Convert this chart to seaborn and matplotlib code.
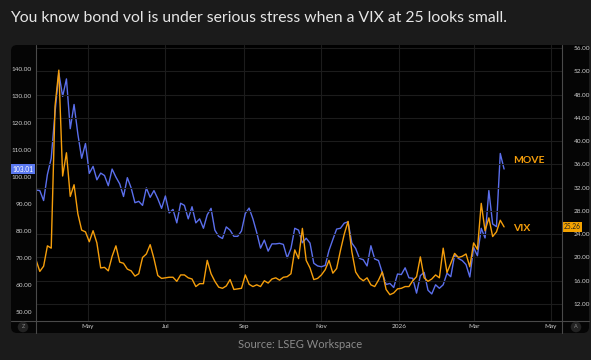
import numpy as np
import pandas as pd
import matplotlib
matplotlib.use("Agg")
import matplotlib.pyplot as plt
import matplotlib.dates as mdates
import seaborn as sns
from matplotlib.patches import FancyBboxPatch
from matplotlib.lines import Line2D
from matplotlib.transforms import IdentityTransform

title = "You know bond vol is under serious stress when a VIX at 25 looks small."
source = "Source: LSEG Workspace"
start_date = "2025-03-21"
step = "3D"

move = [95.2, 95.0, 91.3, 101.0, 107.0, 124.0, 138.6, 130.0, 136.5, 118.0,
        127.0, 116.0, 107.0, 112.5, 101.4, 104.0, 99.0, 101.5, 100.6, 96.8,
        103.0, 100.0, 97.5, 92.8, 99.8, 96.0, 90.5, 91.0, 89.5, 96.0,
        92.5, 95.0, 92.0, 88.4, 93.0, 86.7, 88.0, 83.0, 90.3, 89.5,
        84.5, 89.0, 83.0, 84.5, 81.0, 86.0, 88.4, 80.3, 78.0, 77.2,
        81.5, 80.3, 78.0, 78.0, 80.0, 86.5, 88.5, 84.5, 79.4, 73.6,
        76.6, 72.5, 75.2, 75.2, 75.4, 75.0, 70.0, 73.5, 81.0, 80.3,
        75.6, 77.3, 75.5, 68.0, 67.0, 66.7, 67.2, 72.8, 76.8, 80.7,
        81.0, 82.9, 83.4, 75.5, 73.5, 69.8, 69.3, 67.0, 74.5, 69.6,
        69.0, 64.5, 60.1, 60.5, 59.0, 64.0, 63.8, 66.3, 62.6, 62.4,
        56.9, 63.4, 64.6, 58.0, 56.6, 60.0, 58.7, 60.0, 64.3, 63.0,
        71.0, 69.8, 69.0, 67.5, 62.9, 73.8, 70.8, 81.0, 77.4, 95.0,
        82.6, 81.6, 108.8, 103.01]

vix = [19.6, 17.6, 18.5, 22.0, 21.6, 46.0, 52.2, 34.0, 38.0, 30.5,
       32.5, 27.5, 24.7, 24.4, 22.7, 24.6, 22.5, 18.2, 18.3, 17.7,
       20.2, 22.0, 19.2, 19.0, 18.0, 17.7, 16.8, 17.2, 20.0, 20.6,
       22.2, 19.8, 16.9, 16.4, 16.5, 16.6, 16.6, 15.9, 17.0, 17.0,
       16.5, 16.3, 15.0, 15.5, 15.5, 19.5, 17.2, 15.9, 14.9, 14.7,
       15.1, 16.2, 14.5, 14.6, 14.7, 17.0, 15.4, 15.0, 15.3, 15.0,
       16.0, 15.6, 16.3, 16.5, 16.1, 16.6, 16.7, 17.2, 21.3, 19.8,
       25.0, 19.5, 18.2, 16.2, 16.4, 17.0, 17.9, 19.5, 17.3, 18.1,
       21.2, 24.0, 26.2, 21.0, 17.5, 16.5, 16.0, 16.5, 15.3, 15.0,
       16.1, 17.5, 14.5, 13.6, 13.9, 14.6, 14.7, 15.0, 15.0, 16.0,
       16.7, 20.1, 16.5, 15.9, 16.3, 17.0, 16.5, 21.6, 17.4, 19.0,
       20.7, 20.0, 20.2, 20.6, 18.4, 22.5, 21.4, 29.3, 24.6, 26.8,
       23.6, 24.4, 26.4, 25.26]

move_ticks = [50, 60, 70, 80, 90, 100, 110, 120, 130, 140]
vix_ticks = [12, 16, 20, 24, 28, 32, 36, 40, 44, 48, 52, 56]
month_ticks = ["2025-05-01", "2025-07-01", "2025-09-01", "2025-11-01",
               "2026-01-01", "2026-03-01", "2026-05-01"]
month_labels = ["May", "Jul", "Sep", "Nov", "2026", "Mar", "May"]
x_range = ["2025-03-21", "2026-05-09 16:00"]

dates = pd.date_range(start_date, periods=len(move), freq=step)
df = pd.DataFrame({"date": dates, "MOVE": move, "VIX": vix})

sns.set_style("dark")
plt.rcParams['font.family'] = ['Lato', 'DejaVu Sans']

BLUE = "#5b6fec"
ORANGE = "#f59e0b"
FIG_BG = "#1b1b1b"
PANEL = "#050505"
GRID = "#1c1c1c"
SEP = "#4a4a4a"
TICK = "#cfcfcf"

W, H = 591, 360
fig = plt.figure(figsize=(W / 100, H / 100), dpi=100, facecolor=FIG_BG)

# panel (pixel coords, origin bottom-left)
panel = FancyBboxPatch((11, H - 333), 578, 288,
                       boxstyle="round,pad=0,rounding_size=6",
                       transform=IdentityTransform(), facecolor=PANEL,
                       edgecolor="none", zorder=-10)
fig.patches.append(panel)

ax = fig.add_axes([36 / W, 1 - 321 / H, (562 - 36) / W, (321 - 45) / H])
ax.set_facecolor("#000000")
ax2 = ax.twinx()

sns.lineplot(data=df, x="date", y="MOVE", ax=ax, color=BLUE, linewidth=1.0)
sns.lineplot(data=df, x="date", y="VIX", ax=ax2, color=ORANGE, linewidth=1.0)

ax.set_xlim(pd.Timestamp(x_range[0]), pd.Timestamp(x_range[1]))
ax.set_ylim(46.54, 149.1)
ax2.set_ylim(9.08, 56.52)

ax.set_yticks(move_ticks)
ax.set_yticklabels([f"{v:.2f}" for v in move_ticks])
ax2.set_yticks(vix_ticks)
ax2.set_yticklabels([f"{v:.2f}" for v in vix_ticks])
ax.set_xticks([pd.Timestamp(d) for d in month_ticks])
ax.set_xticklabels(month_labels)

ax.tick_params(axis="y", length=0, pad=3, labelsize=4.6, labelcolor=TICK)
ax2.tick_params(axis="y", length=0, pad=8.5, labelsize=4.6, labelcolor=TICK)
ax.tick_params(axis="x", length=0, pad=2.5, labelsize=4.6, labelcolor=TICK)

ax.set_xlabel("")
ax.set_ylabel("")
ax2.set_ylabel("")

# grid: horizontal on VIX ticks, vertical on month ticks
ax.grid(False)
ax2.grid(False)
ax.xaxis.grid(True, color=GRID, linewidth=0.8)
ax2.yaxis.grid(True, color=GRID, linewidth=0.8)
ax.set_axisbelow(True)
ax2.set_axisbelow(True)
ax2.patch.set_visible(False)

for a in (ax, ax2):
    for s in a.spines.values():
        s.set_visible(False)

# separators
fig.add_artist(Line2D([36, 36], [H - 333, H - 45], transform=IdentityTransform(), color=SEP, lw=0.8))
fig.add_artist(Line2D([562, 562], [H - 333, H - 45], transform=IdentityTransform(), color=SEP, lw=0.8))
fig.add_artist(Line2D([11, 589], [H - 321, H - 321], transform=IdentityTransform(), color=SEP, lw=0.8))

# last value tags
ax.annotate(f"{move[-1]:.2f}", xy=(0, move[-1]), xycoords=("axes fraction", "data"),
            xytext=(-2, 0), textcoords="offset points", ha="right", va="center",
            fontsize=4.8, color="white",
            bbox=dict(boxstyle="square,pad=0.25", fc="#5a78f0", ec="none"))
ax2.annotate(f"{vix[-1]:.2f}", xy=(1, vix[-1]), xycoords=("axes fraction", "data"),
             xytext=(1, 0), textcoords="offset points", ha="left", va="center",
             fontsize=4.8, color="#222222",
             bbox=dict(boxstyle="square,pad=0.25", fc="#f5a300", ec="none"))

# series labels
ax.annotate("MOVE", xy=(pd.Timestamp("2026-04-01"), 106.2), xycoords="data",
            fontsize=7.5, color=ORANGE, ha="left", va="center", fontweight="bold")
ax2.annotate("VIX", xy=(pd.Timestamp("2026-04-01"), 25.0), xycoords="data",
             fontsize=7.5, color=ORANGE, ha="left", va="center", fontweight="bold")

# Z / A buttons
fig.text(23 / W, 1 - 327 / H, "Z", fontsize=4, color="#888888", ha="center", va="center",
         bbox=dict(boxstyle="circle,pad=0.5", fc="#222222", ec="none"))
fig.text(576 / W, 1 - 327 / H, "A", fontsize=4, color="#888888", ha="center", va="center",
         bbox=dict(boxstyle="circle,pad=0.5", fc="#222222", ec="none"))

fig.text(10 / W, 1 - 18 / H, title, fontsize=11.3, color="#e6e6e6", ha="left", va="center")
fig.text(300 / W, 1 - 344 / H, source, fontsize=8, color="#8a8a8a", ha="center", va="center")

fig.savefig("out.png", dpi=100, facecolor=FIG_BG)
